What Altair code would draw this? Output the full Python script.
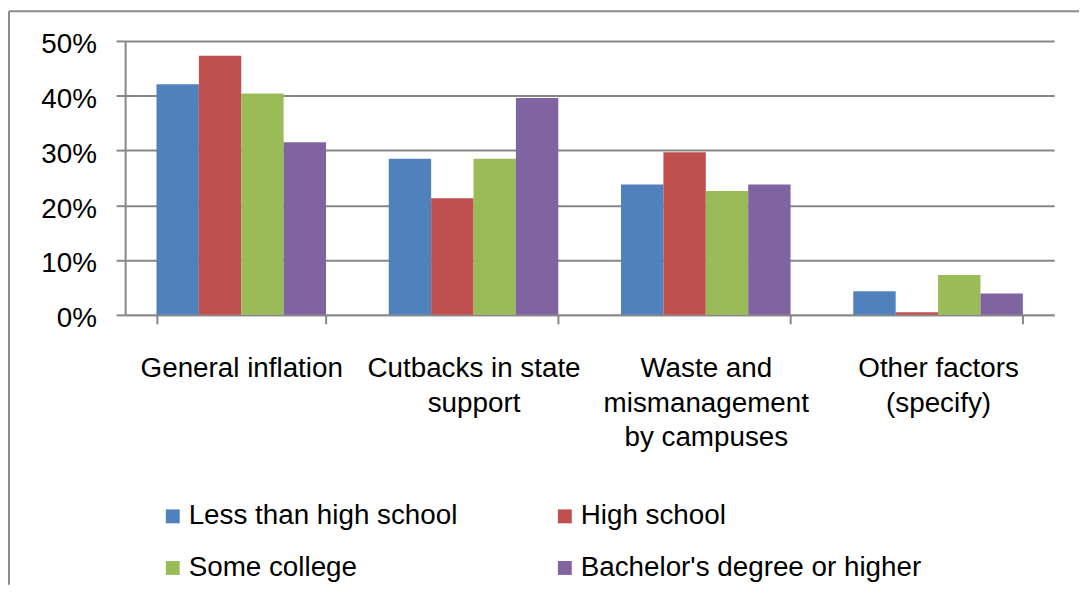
import altair as alt
import pandas as pd

categories = [
    "General inflation",
    "Cutbacks in state\nsupport",
    "Waste and\nmismanagement\nby campuses",
    "Other factors\n(specify)",
]
series = ["Less than high school", "High school", "Some college", "Bachelor's degree or higher"]
less_than_hs = [0.421, 0.285, 0.238, 0.043]
high_school = [0.473, 0.213, 0.297, 0.005]
some_college = [0.404, 0.285, 0.226, 0.073]
bachelors = [0.315, 0.396, 0.238, 0.039]
colors = ["#4F81BD", "#C0504D", "#9BBB59", "#8064A2"]
y_ticks = [0, 0.1, 0.2, 0.3, 0.4, 0.5]

rows = []
for s, vals in zip(series, [less_than_hs, high_school, some_college, bachelors]):
    for c, v in zip(categories, vals):
        rows.append({"category": c, "series": s, "value": v})
df = pd.DataFrame(rows)

# legend fills column by column: order entries so rows read across
legend_order = [0, 2, 1, 3]
legend_domain = [series[i] for i in legend_order]
legend_range = [colors[i] for i in legend_order]

GRAY = "#878787"
FONT = "Liberation Sans"

bars = alt.Chart(df).mark_bar().encode(
    x=alt.X(
        "category:N",
        sort=categories,
        scale=alt.Scale(paddingInner=0.27, paddingOuter=0.135),
        axis=alt.Axis(
            title=None,
            labelExpr="split(datum.label, '\\n')",
            labelAngle=0,
            labelFontSize=28,
            labelPadding=31,
            labelLineHeight=35,
            labelLimit=400,
            labelOverlap=False,
            labelBound=False,
            tickBand="extent",
            tickSize=9,
            grid=False,
        ),
    ),
    xOffset=alt.XOffset("series:N", sort=series, scale=alt.Scale(paddingInner=0, paddingOuter=0)),
    y=alt.Y(
        "value:Q",
        scale=alt.Scale(domain=[0, 0.5], nice=False),
        axis=alt.Axis(
            title=None,
            values=y_ticks,
            format=".0%",
            labelFontSize=28,
            labelPadding=20,
            labelOffset=4,
            tickSize=9,
            grid=True,
        ),
    ),
    color=alt.Color(
        "series:N",
        scale=alt.Scale(domain=legend_domain, range=legend_range),
        legend=alt.Legend(
            title=None,
            orient="none",
            legendX=34,
            legendY=465,
            columns=2,
            symbolType="square",
            symbolSize=196,
            symbolStrokeWidth=0,
            symbolOpacity=1,
            labelFontSize=28,
            labelFont=FONT,
            labelColor="black",
            labelOffset=2,
            labelLimit=500,
            columnPadding=94,
            rowPadding=24,
            padding=0,
        ),
    ),
)

border_df = pd.DataFrame({"k": [0]})
top_line = alt.Chart(border_df).mark_rule(color="#8c8c8c", strokeWidth=2).encode(
    x=alt.value(-117), x2=alt.value(961), y=alt.value(-30)
)
left_line = alt.Chart(border_df).mark_rule(color="#8c8c8c", strokeWidth=2).encode(
    x=alt.value(-117), y=alt.value(-30), y2=alt.value(548)
)

chart = (
    alt.layer(bars, top_line, left_line)
    .properties(width=936, height=276, padding=0)
    .configure(font=FONT)
    .configure_view(strokeWidth=0)
    .configure_axis(
        labelFont=FONT,
        labelColor="black",
        domainColor=GRAY,
        domainWidth=2,
        tickColor=GRAY,
        tickWidth=2,
        gridColor=GRAY,
        gridWidth=2,
    )
)

chart.save("out.html", embed_options={"renderer": "svg", "actions": False})
